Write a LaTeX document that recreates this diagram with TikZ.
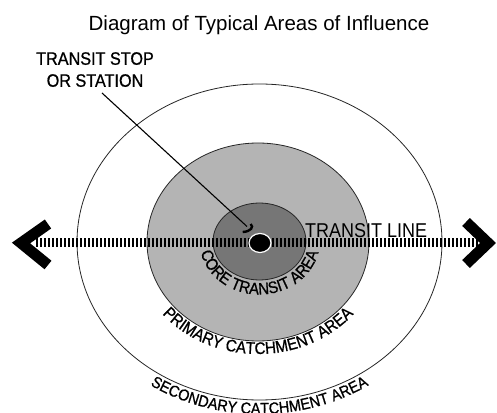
\documentclass[tikz,border=0pt]{standalone}
\usepackage{fontspec}
\setmainfont{Liberation Sans}
\newfontfamily\narrowsf[FakeStretch=0.9]{Liberation Sans}
\newfontfamily\narrowbf[FakeStretch=0.9,FakeBold=0.8]{Liberation Sans}
\usetikzlibrary{decorations.text,shapes.geometric}
\definecolor{primgray}{RGB}{180,180,180}
\definecolor{coregray}{RGB}{118,118,118}
\begin{document}
\begin{tikzpicture}[x=1pt,y=1pt,
  ring/.style={draw=black!85, line width=0.8pt},
  lbl/.style={inner sep=0pt, font=\narrowbf\fontsize{18}{22}\selectfont},
  railline/.style={line width=9pt, dash pattern=on 2pt off 2pt},
  chevron/.style={line width=11pt, line join=miter, miter limit=10},
  leader/.style={line width=1.1pt},
  curvedlabel/.style={decorate, decoration={text along path, text align=center, text={#1}}}
]
\useasboundingbox (0,0) rectangle (497,412);
\fill[white] (0,0) rectangle (497,412);
% areas
\coordinate (oc) at (259.5,170);
\coordinate (pc) at (258,170);
\coordinate (cc) at (259.5,170.5);
\draw[ring, fill=white] (oc) ellipse [x radius=182.5, y radius=158];
\draw[ring, fill=primgray] (pc) ellipse [x radius=111, y radius=99];
\draw[ring, fill=coregray] (cc) ellipse [x radius=46.5, y radius=38.5];
% curved labels
\path[curvedlabel={|\narrowbf\fontsize{16.6}{18}\selectfont|CORE TRANSIT AREA}]
  (cc) ++(180:60 and 53) arc [start angle=180, end angle=360, x radius=60, y radius=53];
\path[curvedlabel={|\narrowbf\fontsize{16.8}{18}\selectfont|PRIMARY CATCHMENT AREA}]
  (pc) ++(180:125 and 112) arc [start angle=180, end angle=360, x radius=125, y radius=112];
\path[curvedlabel={|\narrowbf\fontsize{16}{18}\selectfont|SECONDARY CATCHMENT AREA}]
  (oc) ++(180:197 and 172) arc [start angle=180, end angle=360, x radius=197, y radius=172];
% title
\node[inner sep=0pt, anchor=base, font=\fontsize{20.5}{24}\selectfont] (title) at (259,381) {Diagram of Typical Areas of Influence};
% transit line
\coordinate (lineW) at (36,169);
\coordinate (lineE) at (479,169);
\node[inner sep=0pt, font=\narrowsf\fontsize{20}{24}\selectfont, anchor=base west] (linelabel) at (305,174) {TRANSIT LINE};
\draw[railline] (lineW) -- (lineE);
\draw[chevron] (48,188) -- (21,169) -- (48,147);
\draw[chevron] (466,190) -- (488,169) -- (466,148);
% station
\node[fill=black, draw=white, line width=1.2pt, ellipse, minimum width=22pt, minimum height=19pt, inner sep=0pt] (stop) at (260,169) {};
% leader
\node[lbl, align=center, anchor=north] (stoplabel) at (95,360) {TRANSIT STOP\\OR STATION};
\coordinate (leadstart) at (102,319);
\coordinate (leadend) at (247,185.5);
\draw[leader] (leadstart) -- (leadend);
\draw[line width=2.4pt] (250.7,188) .. controls (254,185) and (251,180.5) .. (242.7,180);
\end{tikzpicture}
\end{document}
